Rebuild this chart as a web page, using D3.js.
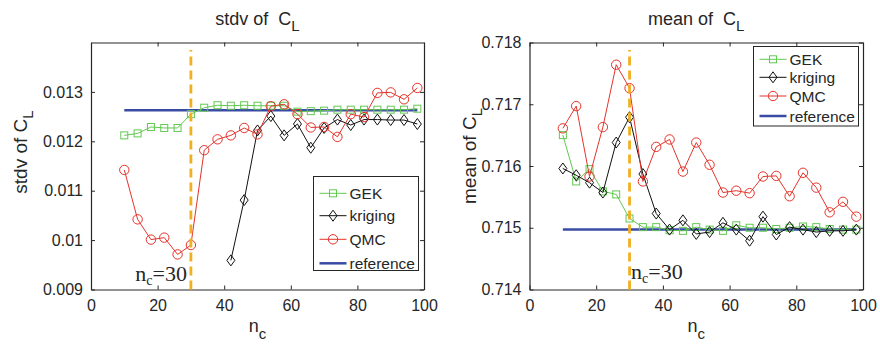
<!doctype html>
<html>
	<head>
		<meta charset="utf-8">
		<title>stdv and mean of CL</title>
		<style>
			body{
				margin: 0;
				background-color: white;
			}
		</style>
	</head>
	<body>
		<svg id="chart" width="880" height="344" font-family="Liberation Sans, Arial, sans-serif" fill="#262626"></svg>
		<script src="https://d3js.org/d3.v7.min.js"></script>
		<script>
			// sample counts n_c
			var ncAll = [10,14,18,22,26,30,34,38,42,46,50,54,58,62,66,70,74,78,82,86,90,94,98];
			var ncKrigLeft = [42,46,50,54,58,62,66,70,74,78,82,86,90,94,98];
			var xTicks = [0,20,40,60,80,100];

			// left panel: stdv of CL
			var stdvGEK = [0.01212,0.01216,0.01229,0.01227,0.01227,0.01255,0.01268,0.01273,0.01272,0.01273,0.01272,0.01272,0.01272,0.01260,0.01261,0.01262,0.01264,0.01264,0.01264,0.01264,0.01264,0.01264,0.01266];
			var stdvKriging = [0.00959,0.01081,0.01222,0.01251,0.01212,0.01235,0.01187,0.01227,0.01244,0.01233,0.01244,0.01244,0.01243,0.01243,0.01235];
			var stdvQMC = [0.01142,0.01042,0.01001,0.01005,0.00971,0.00990,0.01182,0.01204,0.01212,0.01227,0.01214,0.01271,0.01275,0.01255,0.01228,0.01229,0.01209,0.01255,0.01249,0.01298,0.01299,0.01285,0.01308];
			var stdvRef = 0.01263;
			var stdvTicks = [0.009,0.01,0.011,0.012,0.013];
			var stdvTickLabels = ["0.009","0.01","0.011","0.012","0.013"];

			// right panel: mean of CL
			var meanGEK = [0.71650,0.71575,0.71595,0.71559,0.71554,0.71515,0.71501,0.71501,0.71496,0.71495,0.71501,0.71497,0.71495,0.71504,0.71500,0.71500,0.71498,0.71500,0.71502,0.71501,0.71498,0.71497,0.71497];
			var meanKriging = [0.71596,0.71585,0.71573,0.71557,0.71638,0.71679,0.71587,0.71523,0.71497,0.71512,0.71490,0.71493,0.71508,0.71497,0.71479,0.71518,0.71489,0.71501,0.71497,0.71493,0.71495,0.71495,0.71497];
			var meanQMC = [0.71661,0.71697,0.71583,0.71663,0.71764,0.71726,0.71575,0.71631,0.71643,0.71591,0.71638,0.71602,0.71557,0.71560,0.71556,0.71583,0.71584,0.71551,0.71589,0.71565,0.71525,0.71542,0.71518];
			var meanRef = 0.71497;
			var meanTicks = [0.714,0.715,0.716,0.717,0.718];
			var meanTickLabels = ["0.714","0.715","0.716","0.717","0.718"];

			var legendNames = ["GEK","kriging","QMC","reference"];
			var nc0 = 30;

			var green = "#62c850", red = "#e5332a", blue = "#3a4ba3", orange = "#f0b020", ink = "#262626";

			var svg = d3.select("#chart");

			function subText(sel, main, sub, subSize, dy){
				sel.append("tspan").text(main);
				sel.append("tspan").attr("font-size", subSize).attr("dy", dy).text(sub);
			}

			function marker(g, shape, color, x, y){
				if(shape === "square"){
					g.append("rect").attr("x", x-3.5).attr("y", y-3.5).attr("width", 7).attr("height", 7)
						.attr("fill", "none").attr("stroke", color).attr("stroke-width", 1);
				}else if(shape === "diamond"){
					g.append("path").attr("d", "M"+x+","+(y-5.5)+"L"+(x+4)+","+y+"L"+x+","+(y+5.5)+"L"+(x-4)+","+y+"Z")
						.attr("fill", "none").attr("stroke", color).attr("stroke-width", 1);
				}else{
					g.append("circle").attr("cx", x).attr("cy", y).attr("r", 4.7)
						.attr("fill", "none").attr("stroke", color).attr("stroke-width", 1);
				}
			}

			function drawPanel(p){
				var x = d3.scaleLinear().domain([0,100]).range([p.left, p.right]);
				var y = d3.scaleLinear().domain(p.yDomain).range([289.5, 42.5]);
				var g = svg.append("g");

				// box with inward ticks on all sides
				g.append("g").attr("transform", "translate(0,289.5)")
					.call(d3.axisBottom(x).tickValues(xTicks).tickSizeInner(-4).tickSizeOuter(0).tickPadding(10))
					.attr("font-family", null).attr("font-size", 16);
				g.append("g").attr("transform", "translate(0,42.5)")
					.call(d3.axisTop(x).tickValues(xTicks).tickSizeInner(-4).tickSizeOuter(0).tickFormat(""));
				g.append("g").attr("transform", "translate("+p.left+",0)")
					.call(d3.axisLeft(y).tickValues(p.yTicks).tickSizeInner(-4).tickSizeOuter(0).tickPadding(8)
						.tickFormat(function(d,i){ return p.yTickLabels[i]; }))
					.attr("font-family", null).attr("font-size", 16);
				g.append("g").attr("transform", "translate("+p.right+",0)")
					.call(d3.axisRight(y).tickValues(p.yTicks).tickSizeInner(-4).tickSizeOuter(0).tickFormat(""));
				g.selectAll(".domain").attr("stroke", ink).attr("stroke-width", 1.2);
				g.selectAll(".tick line").attr("stroke", ink);
				g.selectAll(".tick text").attr("fill", ink);

				var line = d3.line().x(function(d){ return x(d[0]); }).y(function(d){ return y(d[1]); });

				// reference
				g.append("path").datum([[ncAll[0], p.ref],[ncAll[ncAll.length-1], p.ref]])
					.attr("d", line).attr("stroke", blue).attr("stroke-width", 2.5).attr("fill", "none");

				p.series.forEach(function(s){
					var pts = s.xs.map(function(n,i){ return [n, s.values[i]]; });
					g.append("path").datum(pts).attr("d", line)
						.attr("fill", "none").attr("stroke", s.color).attr("stroke-width", 1);
					pts.forEach(function(d){ marker(g, s.shape, s.color, x(d[0]), y(d[1])); });
				});

				// n_c = 30 marker line
				g.append("path").datum([[nc0, p.yDomain[0]],[nc0, p.dashTop]])
					.attr("d", line).attr("stroke", orange).attr("stroke-width", 2.8)
					.attr("stroke-dasharray", "9,5").attr("fill", "none");

				var nt = g.append("text").attr("x", p.ncX).attr("y", p.ncY)
					.attr("font-size", 22).attr("text-anchor", p.ncAnchor)
					.attr("font-family", "Liberation Serif, Times New Roman, serif");
				nt.append("tspan").text("n");
				nt.append("tspan").attr("font-size", 14).attr("dy", 4).text("c");
				nt.append("tspan").attr("dy", -4).text("=30");

				// title
				var t = g.append("text").attr("x", (p.left+p.right)/2).attr("y", 25)
					.attr("text-anchor", "middle").attr("font-size", 18).style("white-space", "pre");
				subText(t, p.title+"  C", "L", 15, 6);

				// y label
				var yl = g.append("text").attr("transform", "translate("+p.yLabelX+","+p.yLabelY+") rotate(-90)")
					.attr("text-anchor", "middle").attr("font-size", 19);
				subText(yl, p.yLabel+" C", "L", 15, 6);

				// x label
				var xl = g.append("text").attr("x", (p.left+p.right)/2).attr("y", 332)
					.attr("text-anchor", "middle").attr("font-size", 18);
				subText(xl, "n", "c", 15, 7);

				// legend
				var L = p.legend;
				var lg = g.append("g");
				lg.append("rect").attr("x", L.x).attr("y", L.y).attr("width", L.w).attr("height", L.h)
					.attr("fill", "white").attr("stroke", ink).attr("stroke-width", 1);
				var styles = p.series.concat([{color: blue, shape: null}]);
				legendNames.forEach(function(name, i){
					var ly = L.rows[i];
					lg.append("line").attr("x1", L.x+6).attr("x2", L.x+33).attr("y1", ly).attr("y2", ly)
						.attr("stroke", styles[i].color).attr("stroke-width", styles[i].shape ? 1 : 2.5);
					if(styles[i].shape){
						marker(lg, styles[i].shape, styles[i].color, L.x+19.5, ly);
					}
					lg.append("text").attr("x", L.x+36).attr("y", ly+5.5).attr("font-size", 15.5).text(name);
				});
			}

			drawPanel({
				left: 91, right: 424,
				yDomain: [0.009, 0.014], yTicks: stdvTicks, yTickLabels: stdvTickLabels,
				ref: stdvRef, dashTop: 0.01385,
				title: "stdv of", yLabel: "stdv of", yLabelX: 27, yLabelY: 152,
				ncX: 187, ncY: 281, ncAnchor: "end",
				series: [
					{xs: ncAll, values: stdvGEK, color: green, shape: "square"},
					{xs: ncKrigLeft, values: stdvKriging, color: "#111", shape: "diamond"},
					{xs: ncAll, values: stdvQMC, color: red, shape: "circle"}
				],
				legend: {x: 313.5, y: 176.5, w: 105, h: 94, rows: [193.3, 215.7, 239.3, 263.3]}
			});

			drawPanel({
				left: 529.5, right: 863,
				yDomain: [0.714, 0.718], yTicks: meanTicks, yTickLabels: meanTickLabels,
				ref: meanRef, dashTop: 0.71788,
				title: "mean of", yLabel: "mean of", yLabelX: 476, yLabelY: 156,
				ncX: 631, ncY: 279, ncAnchor: "start",
				series: [
					{xs: ncAll, values: meanGEK, color: green, shape: "square"},
					{xs: ncAll, values: meanKriging, color: "#111", shape: "diamond"},
					{xs: ncAll, values: meanQMC, color: red, shape: "circle"}
				],
				legend: {x: 753.5, y: 46.5, w: 105, h: 79.5, rows: [59.3, 77.3, 96, 116]}
			});
		</script>
	</body>
</html>
